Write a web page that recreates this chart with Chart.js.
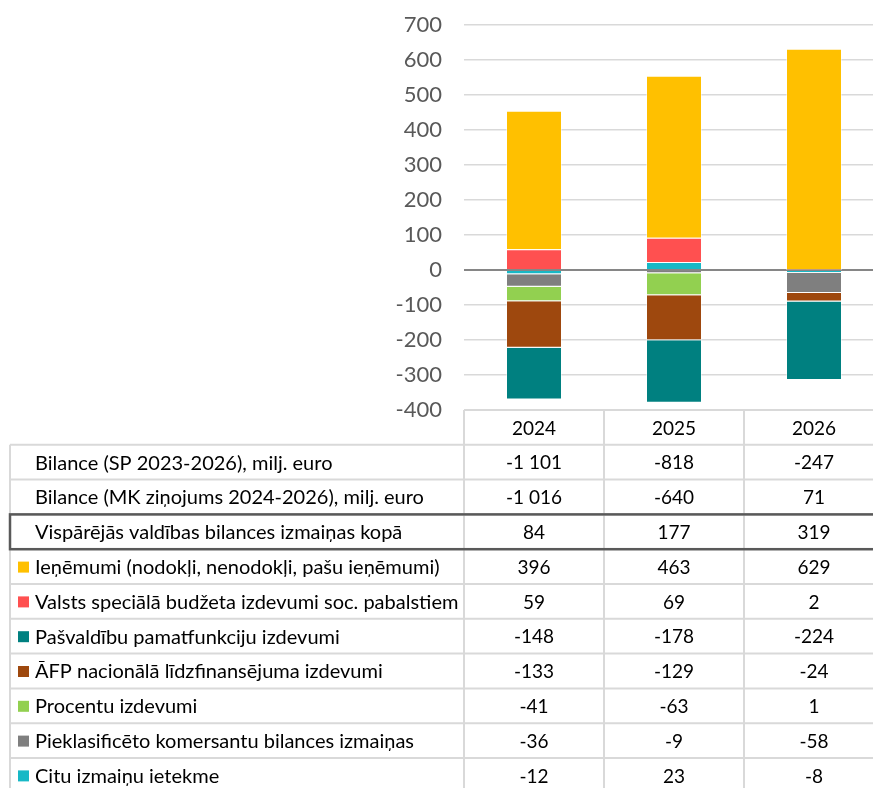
<!DOCTYPE html>
<html>
<head>
<meta charset="utf-8">
<script src="https://cdn.jsdelivr.net/npm/chart.js@4"></script>
<style>
  html, body { margin: 0; padding: 0; overflow: hidden; background: #fff; }
  #wrap { width: 873px; height: 788px; overflow: hidden; }
</style>
</head>
<body>
<div id="wrap"><canvas id="chart" width="884" height="788"></canvas></div>
<script>
const years = ["2024", "2025", "2026"];

// rows shown only in the table
const balanceSP = [-1101, -818, -247];
const balanceMK = [-1016, -640, 71];
const totalChange = [84, 177, 319];

// stacked series (table order)
const revenue = [396, 463, 629];
const socialBenefits = [59, 69, 2];
const municipal = [-148, -178, -224];
const euCofinancing = [-133, -129, -24];
const interest = [-41, -63, 1];
const reclassified = [-36, -9, -58];
const otherEffects = [-12, 23, -8];

const series = [
    { label: "Ieņēmumi (nodokļi, nenodokļi, pašu ieņēmumi)", data: revenue, color: "#FFC000" },
    { label: "Valsts speciālā budžeta izdevumi soc. pabalstiem", data: socialBenefits, color: "#FF5050" },
    { label: "Pašvaldību pamatfunkciju izdevumi", data: municipal, color: "#008080" },
    { label: "ĀFP nacionālā līdzfinansējuma izdevumi", data: euCofinancing, color: "#9E480E" },
    { label: "Procentu izdevumi", data: interest, color: "#92D050" },
    { label: "Pieklasificēto komersantu bilances izmaiņas", data: reclassified, color: "#7F7F7F" },
    { label: "Citu izmaiņu ietekme", data: otherEffects, color: "#17B8C6" },
];

const tableRows = [
    { label: "Bilance (SP 2023-2026), milj. euro", data: balanceSP },
    { label: "Bilance (MK ziņojums 2024-2026), milj. euro", data: balanceMK },
    { label: "Vispārējās valdības bilances izmaiņas kopā", data: totalChange, boxed: true },
    ...series,
];

const FONT = "Lato, 'Open Sans', sans-serif";

function fmt(v) {
    const s = Math.abs(v).toString().replace(/\B(?=(\d{3})+(?!\d))/g, " ");
    return (v < 0 ? "-" : "") + s;
}

const tablePlugin = {
    id: "dataTable",
    afterDraw(chart) {
        const ctx = chart.ctx;
        const area = chart.chartArea;
        const xs = chart.scales.x;
        const colW = (area.right - area.left) / years.length;
        const top = area.bottom;
        const rowH = 34.8;
        const labelLeft = 10;
        const nRows = tableRows.length + 1;
        const bottom = top + nRows * rowH;

        ctx.save();
        ctx.strokeStyle = "#d9d9d9";
        ctx.lineWidth = 2;
        ctx.beginPath();
        ctx.moveTo(area.left, top);
        ctx.lineTo(area.right, top);
        for (let i = 1; i <= nRows; i++) {
            const y = top + i * rowH;
            ctx.moveTo(labelLeft, y);
            ctx.lineTo(area.right, y);
        }
        for (let k = 0; k <= years.length; k++) {
            const x = area.left + k * colW;
            ctx.moveTo(x, top);
            ctx.lineTo(x, bottom);
        }
        ctx.moveTo(labelLeft, top + rowH);
        ctx.lineTo(labelLeft, bottom);
        ctx.stroke();

        ctx.textBaseline = "middle";
        ctx.fillStyle = "#000";
        ctx.font = "19px " + FONT;
        ctx.textAlign = "center";
        years.forEach((yr, i) => {
            ctx.fillText(yr, xs.getPixelForValue(i), top + rowH / 2 + 1);
        });

        tableRows.forEach((row, r) => {
            const y0 = top + (r + 1) * rowH;
            const yc = y0 + rowH / 2 + 1;
            if (row.color) {
                ctx.fillStyle = row.color;
                ctx.fillRect(18, yc - 6, 11, 11);
            }
            ctx.fillStyle = "#000";
            ctx.textAlign = "left";
            ctx.font = "20px " + FONT;
            ctx.fillText(row.label, 35, yc);
            ctx.textAlign = "center";
            ctx.font = "19px " + FONT;
            row.data.forEach((v, i) => {
                ctx.fillText(fmt(v), xs.getPixelForValue(i), yc);
            });
            if (row.boxed) {
                ctx.strokeStyle = "#595959";
                ctx.lineWidth = 2.5;
                ctx.strokeRect(labelLeft, y0, area.right + 10 - labelLeft, rowH);
            }
        });
        ctx.restore();
    },
};

// Excel stacks the last table row closest to the axis
const datasets = series.slice().reverse().map((s) => ({
    label: s.label,
    data: s.data,
    backgroundColor: s.color,
    borderColor: "rgba(255,255,255,0.45)",
    borderWidth: 1,
    categoryPercentage: 0.4,
    barPercentage: 1,
}));

new Chart(document.getElementById("chart").getContext("2d"), {
    type: "bar",
    data: { labels: years, datasets: datasets },
    options: {
        responsive: false,
        animation: false,
        events: [],
        layout: { padding: { top: 25, bottom: 378, left: 0, right: 0 } },
        plugins: { legend: { display: false }, tooltip: { enabled: false } },
        scales: {
            x: { stacked: true, display: false },
            y: {
                stacked: true,
                min: -400,
                max: 700,
                ticks: { stepSize: 100, color: "#595959", font: { family: FONT, size: 22 }, padding: 22 },
                grid: {
                    drawTicks: false,
                    color: (c) => (c.tick && c.tick.value === 0 ? "#868686" : "#d9d9d9"),
                    lineWidth: (c) => (c.tick && c.tick.value === 0 ? 2 : 1.5),
                },
                border: { display: false },
                afterFit(scale) {
                    scale.width = 464;
                    scale.paddingTop = 0;
                    scale.paddingBottom = 0;
                },
            },
        },
    },
    plugins: [tablePlugin],
});
</script>
</body>
</html>
